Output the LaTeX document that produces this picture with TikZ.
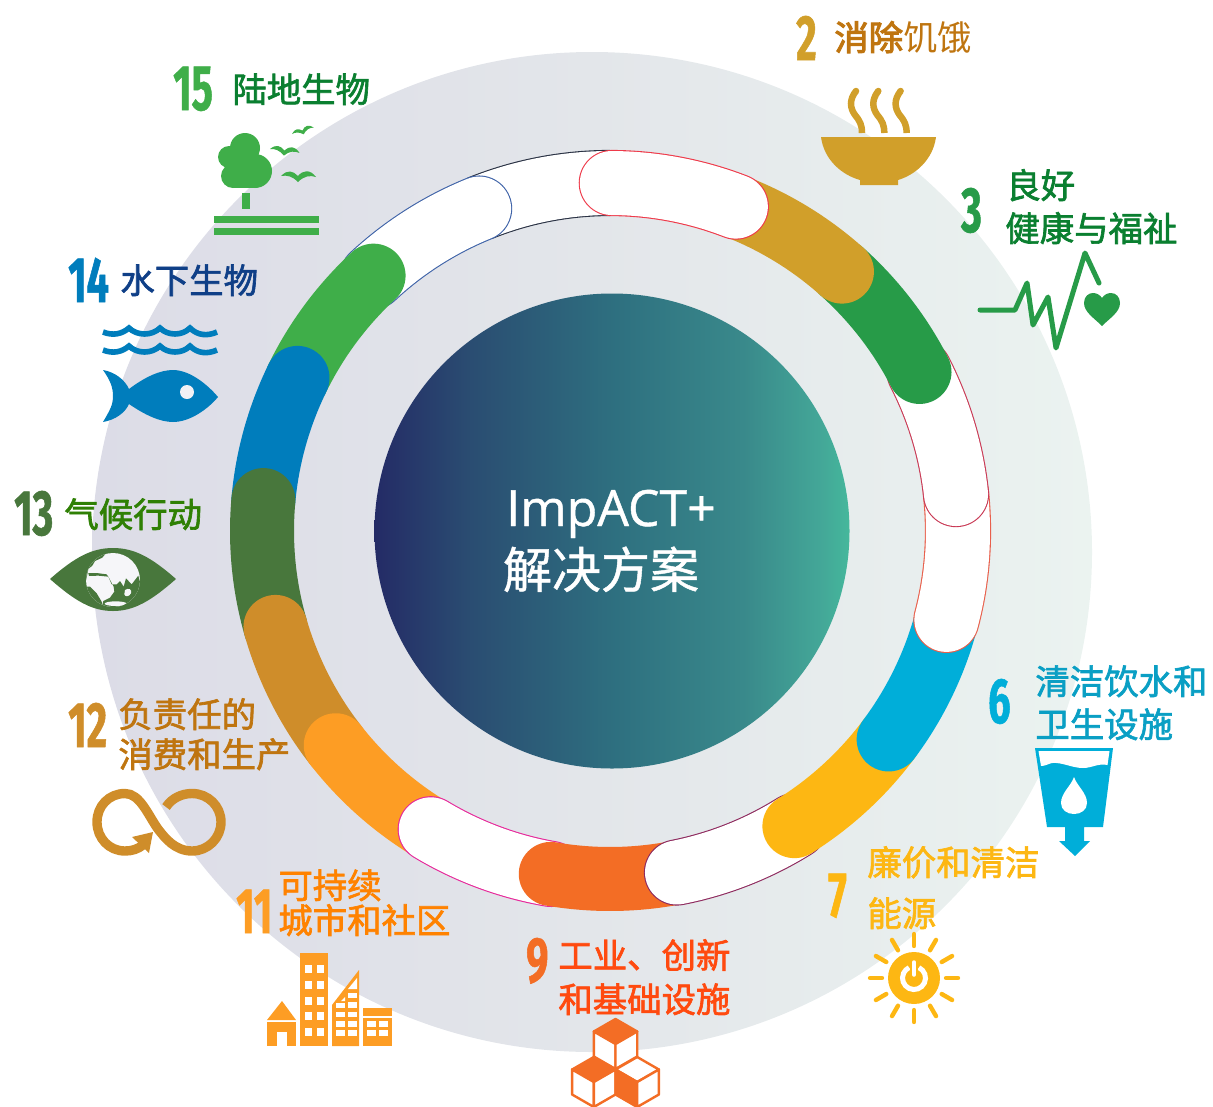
\documentclass[tikz,border=0pt]{standalone}
\usepackage{fontspec}
\newfontfamily\cjk{Noto Sans CJK SC}
\newfontfamily\cjkm[FakeBold=1.9]{Noto Sans CJK SC}
\newfontfamily\cjkb[FakeBold=3]{Noto Sans CJK SC}
\newfontfamily\cjkt[FakeBold=1]{Noto Sans CJK SC}
\newfontfamily\numf[FakeStretch=0.62,BoldFeatures={FakeBold=0.8,FakeStretch=0.62}]{Fira Sans}
\newfontfamily\latf[FakeBold=0.9]{Open Sans}
\definecolor{cOchre}{HTML}{D19F2A}
\definecolor{cGreenC}{HTML}{279B48}
\definecolor{cCyan}{HTML}{00AED9}
\definecolor{cYellow}{HTML}{FDB713}
\definecolor{cRedO}{HTML}{F36D25}
\definecolor{cOrange}{HTML}{FD9D24}
\definecolor{cGold}{HTML}{CF8D2A}
\definecolor{cClim}{HTML}{48773C}
\definecolor{cBlue}{HTML}{007DBC}
\definecolor{cLand}{HTML}{3FAE49}
\definecolor{tBrown}{HTML}{BF7510}
\definecolor{tGreen}{HTML}{0A7F30}
\definecolor{tNavy}{HTML}{0F3F87}
\definecolor{tClim}{HTML}{2F8005}
\definecolor{tOrange}{HTML}{FF8200}
\definecolor{tRed}{HTML}{FF4A0F}
\definecolor{tCyan}{HTML}{0A9FC4}
\definecolor{dLeft}{HTML}{DCDCE7}
\definecolor{dMid}{HTML}{E3E6EA}
\definecolor{dRight}{HTML}{EBF3F0}
\definecolor{oDark}{HTML}{2A3244}
\definecolor{oBlue}{HTML}{3F63A8}
\definecolor{oRed}{HTML}{EE3A4A}
\definecolor{oPink}{HTML}{E6289A}
\definecolor{oPurple}{HTML}{8E2A5E}
\definecolor{oCoral}{HTML}{E8604C}
\definecolor{oCrimson}{HTML}{C93A55}
\definecolor{globeWhite}{HTML}{F6F6F9}
\pgfdeclarehorizontalshading{coreshade}{100bp}{
  rgb(0bp)=(0.141,0.169,0.400);
  rgb(25bp)=(0.141,0.169,0.400);
  rgb(35bp)=(0.165,0.300,0.445);
  rgb(50bp)=(0.180,0.435,0.500);
  rgb(64bp)=(0.225,0.540,0.545);
  rgb(72bp)=(0.265,0.655,0.595);
  rgb(75bp)=(0.270,0.720,0.610);
  rgb(100bp)=(0.270,0.720,0.610)}
\tikzset{
  lbl/.style={anchor=base west,inner sep=0pt,xshift=-0.8pt,yshift=0.7pt,font=\cjkm\fontsize{34.4}{36}\selectfont},
  num/.style={anchor=base west,inner sep=0pt,font=\numf\bfseries\fontsize{64}{64}\selectfont},
  band/.style={line width=64pt,line cap=round},
  edgeline/.style={line width=66.2pt},
  win/.style={fill=white}
}
\newcommand{\bandarc}[3]{%
  \draw[band,#3] (c) ++(#1:348pt) arc[start angle=#1,end angle=#2,radius=348pt];}
\newcommand{\capsule}[3]{%
  \draw[edgeline,line cap=round,#3] (c) ++(#1:348pt) arc[start angle=#1,end angle=#2,radius=348pt];
  \draw[band,white] (c) ++(#1:348pt) arc[start angle=#1,end angle=#2,radius=348pt];}
\newcommand{\birdmark}[4]{%
  \fill[cLand,shift={(#1,#2)},scale=#3,rotate=#4] (0,0) .. controls (7,-7) and (12,-5) .. (17,0)
    .. controls (22,-6) and (29,-7) .. (35,1) .. controls (29,-1) and (23,0) .. (17,6)
    .. controls (11,0) and (6,-1) .. cycle;}
\newcommand{\cubemark}[5]{%
  \begin{scope}[shift={(#1,#2)},draw=cRedO,line width=2.4pt,line join=round]
    \filldraw[fill=#3] (0,-25) -- (21.7,-12.5) -- (0,0) -- (-21.7,-12.5) -- cycle;
    \filldraw[fill=#4] (-21.7,-12.5) -- (0,0) -- (0,25) -- (-21.7,12.5) -- cycle;
    \filldraw[fill=#5] (21.7,-12.5) -- (0,0) -- (0,25) -- (21.7,12.5) -- cycle;
  \end{scope}}
\begin{document}
\begin{tikzpicture}[x=1pt,y=-1pt]
\clip (0,0) rectangle (1213,1106);
\coordinate (c) at (610,531);
% backdrop disc
\shade[left color=dLeft,right color=dRight,middle color=dMid] (592,552) circle[radius=500pt];
% ring
\draw[edgeline,line cap=butt,oDark] (c) ++(90:348pt) arc[start angle=90,end angle=112,radius=348pt];
\draw[band,line cap=butt,white] (c) ++(89:348pt) arc[start angle=89,end angle=113,radius=348pt];
\capsule{112.1}{133}{oBlue}
\bandarc{132.8}{154}{cLand}
\bandarc{153.9}{175}{cBlue}
\bandarc{174.9}{196}{cClim}
\bandarc{196}{218}{cGold}
\bandarc{218}{239}{cOrange}
\capsule{239}{260.2}{oPink}
\bandarc{260.2}{281.1}{cRedO}
\capsule{281.1}{302}{oPurple}
\bandarc{302}{323.2}{cYellow}
\bandarc{323.2}{345.2}{cCyan}
\capsule{345.2}{366.1}{oCoral}
\capsule{6.1}{27.2}{oCrimson}
\bandarc{27.2}{48.2}{cGreenC}
\bandarc{48.2}{68.8}{cOchre}
\capsule{68.8}{89.7}{oRed}
% central disc
\shade[shading=coreshade] (612,531) circle[radius=237.5pt];
\node (titleA) [anchor=base,inner sep=0pt,text=white,font=\latf\fontsize{50}{50}\selectfont] at (611,526) {ImpACT+};
\node (titleB) [anchor=base,inner sep=0pt,text=white,font=\cjkt\fontsize{49}{49}\selectfont] at (601,588) {解决方案};
% numbers
\node (n2)  [num,text=cOchre] at (796,60) {2};
\node (n15) [num,text=cLand] at (173,110) {15};
\node (n14) [num,text=cBlue] at (68,302) {14};
\node (n13) [num,text=cClim] at (14,535) {13};
\node (n12) [num,text=cGold] at (68,747) {12};
\node (n11) [num,text=cOrange] at (236,933) {11};
\node (n9)  [num,text=cRedO] at (526,982) {9};
\node (n7)  [num,text=cYellow] at (828,917) {7};
\node (n6)  [num,text=cCyan] at (988,723) {6};
\node (n3)  [num,text=cGreenC] at (961,232) {3};
% labels
\node (l2) [lbl,text=tBrown] at (835,51) {{\cjkb 消除}{\cjk 饥饿}};
\node (l15) [lbl,text=tGreen] at (233,103) {陆地生物};
\node (l14) [lbl,text=tNavy] at (121,294) {水下生物};
\node (l13) [lbl,text=tClim] at (65,528) {气候行动};
\node (l12a) [lbl,text=tBrown] at (119,728) {负责任的};
\node (l12b) [lbl,text=tBrown] at (119,768) {消费和生产};
\node (l11a) [lbl,text=tOrange] at (279,899) {可持续};
\node (l11b) [lbl,text=tOrange] at (279,934) {城市和社区};
\node (l9a) [lbl,text=tRed] at (559,969) {工业、创新};
\node (l9b) [lbl,text=tRed] at (559,1013) {和基础设施};
\node (l7a) [lbl,text=cYellow] at (868,876) {廉价和清洁};
\node (l7b) [lbl,text=cYellow] at (868,927) {能源};
\node (l6a) [lbl,text=tCyan] at (1036,695) {清洁饮水和};
\node (l6b) [lbl,text=tCyan] at (1036,738) {卫生设施};
\node (l3a) [lbl,text=tGreen] at (1007,199) {良好};
\node (l3b) [lbl,text=tGreen] at (1006,242) {健康与福祉};
% bowl
\fill[cOchre] (821,137) -- (936,137) .. controls (933,160) and (915,175) .. (898,180) -- (898,185) -- (860,185) -- (860,180) .. controls (842,175) and (824,160) .. cycle;
\foreach \dx in {0,22.3,44.6}{
  \draw[cOchre,line width=6.5pt] ([xshift=\dx pt]856,91) .. controls ([xshift=\dx pt]849,100) and ([xshift=\dx pt]850,108) .. ([xshift=\dx pt]855,115) .. controls ([xshift=\dx pt]860,121) and ([xshift=\dx pt]862,125) .. ([xshift=\dx pt]862,133);
  \fill[cOchre] ([xshift=\dx pt]856,91) circle[radius=3.25pt];
}
% heartbeat
\draw[cGreenC,line width=5pt,line join=round,line cap=round] (980,310) -- (1015,310) -- (1027,283) -- (1033,325) -- (1048,297) -- (1056,348) -- (1085,253) -- (1099,283);
\fill[cGreenC] (1102,326) .. controls (1094,318) and (1084,312) .. (1084,303) .. controls (1084,296) and (1089,293) .. (1093,293) .. controls (1097,293) and (1100,295) .. (1102,298) .. controls (1104,295) and (1107,293) .. (1111,293) .. controls (1116,293) and (1120,297) .. (1120,303) .. controls (1120,312) and (1110,318) .. cycle;
% tree
\fill[cLand] (245,148) circle[radius=15pt] (229,157) circle[radius=11pt] (255,171) circle[radius=17pt] (233,176) circle[radius=12pt] (243,163) circle[radius=14pt];
\fill[cLand] (233,168) rectangle (255,188);
\fill[cLand] (242,193) rectangle (250,209);
\fill[cLand] (214,216) rectangle (319,223);
\fill[cLand] (214,228) rectangle (319,235);
\birdmark{292}{134}{0.65}{18}
\birdmark{270}{149}{0.85}{-6}
\birdmark{281}{176}{1}{0}
% waves
\foreach \dy in {0,18}{
  \draw[cBlue,line width=5.6pt] ([yshift=-\dy pt]103,332) .. controls ([yshift=-\dy pt]113,336) and ([yshift=-\dy pt]122,334) .. ([yshift=-\dy pt]129,328) .. controls ([yshift=-\dy pt]137,336) and ([yshift=-\dy pt]152,336) .. ([yshift=-\dy pt]160,328) .. controls ([yshift=-\dy pt]168,336) and ([yshift=-\dy pt]182,336) .. ([yshift=-\dy pt]190,328) .. controls ([yshift=-\dy pt]198,336) and ([yshift=-\dy pt]208,336) .. ([yshift=-\dy pt]217,332);
}
% fish
\fill[cBlue] (103,370) .. controls (115,372) and (125,380) .. (129,389) .. controls (145,377) and (160,370) .. (173,370) .. controls (190,370) and (208,385) .. (218,397) .. controls (208,409) and (190,422) .. (173,422) .. controls (160,422) and (145,415) .. (129,404) .. controls (125,413) and (115,420) .. (103,422) .. controls (110,410) and (113,405) .. (113,396) .. controls (113,387) and (110,380) .. cycle;
\fill[dLeft!40!white] (187,392) circle[radius=7pt];
% eye and globe
\fill[cClim] (50,579) .. controls (75,557) and (92,548) .. (113,548) .. controls (134,548) and (151,557) .. (176,579) .. controls (151,601) and (134,611) .. (113,611) .. controls (92,611) and (75,601) .. cycle;
\fill[globeWhite] (113,580) circle[radius=27pt];
\begin{scope}
  \clip (113,580) circle[radius=27pt];
  \begin{scope}[shift={(75,545)},scale=0.3333]
    \fill[cClim] (30,20) -- (95,22) -- (82,38) -- (60,48) -- (52,62) -- (40,72) -- (37,88) -- (30,120) -- cycle;
    \fill[cClim] (30,125) -- (45,125) -- (65,145) -- (80,170) -- (85,190) -- (30,190) -- cycle;
    \fill[cClim] (40,84) -- (65,84) -- (95,88) -- (100,95) -- (70,92) -- (42,93) -- cycle;
    \fill[cClim] (100,95) -- (110,118) -- (125,118) -- (135,108) -- (146,125) -- (153,100) -- (170,118) -- (190,92) -- (200,130) -- (190,190) -- (80,190) -- (85,168) -- (105,158) -- (118,140) -- (116,125) -- cycle;
    \fill[globeWhite] (150,135) .. controls (160,128) and (172,132) .. (168,145) .. controls (162,156) and (150,156) .. (148,148) -- cycle;
    \fill[globeWhite] (122,176) ellipse[x radius=33pt,y radius=7pt];
  \end{scope}
\end{scope}
% infinity
\draw[cGold,line width=9.4pt] (166,807) .. controls (172,798) and (182,793.5) .. (192,793.5) .. controls (208,793.5) and (221,806) .. (221,822) .. controls (221,838) and (208,851) .. (192,851) .. controls (175,851) and (165,838) .. (158,829) .. controls (148,815) and (140,793.5) .. (125,793.5) .. controls (109,793.5) and (97,806) .. (97,822) .. controls (97,838) and (109,851) .. (125,851) .. controls (132,851) and (138,849) .. (143,845);
\fill[cGold] (132,837) -- (153,832) -- (149,853) -- cycle;
% city
\fill[cOrange] (300,953) rectangle (328,1046);
\foreach \yy in {965,981,997,1012,1028}{
  \fill[win] (305,\yy) rectangle ++(7,8);
  \fill[win] (317,\yy) rectangle ++(7,8);
}
\fill[cOrange] (282,1001) -- (296,1020) -- (267,1020) -- cycle;
\fill[cOrange] (267,1022) rectangle (296,1046);
\fill[win] (277,1032) rectangle (287,1046);
\fill[cOrange] (332,1046) -- (332,1005) -- (359,970) -- (359,1046) -- cycle;
\foreach \yy/\hh in {1012/5,1021/6,1030/6}{
  \fill[win] (336,\yy) rectangle ++(9,\hh);
  \fill[win] (348,\yy) rectangle ++(9,\hh);
}
\fill[win] (348,993) rectangle ++(9,5);
\fill[win] (348,1002) rectangle ++(9,6);
\fill[win] (336,1003) -- (345,1003) -- (345,1008) -- (336,1008) -- cycle;
\fill[win] (345,997) -- (345,1001) -- (341,1001) -- cycle;
\fill[win] (348,989) -- (357,978) -- (357,989) -- cycle;
\fill[cOrange] (363,1008) rectangle (392,1046);
\fill[win] (363,1015.5) rectangle (392,1018);
\foreach \yy in {1021,1030}{
  \fill[win] (367,\yy) rectangle ++(9,6);
  \fill[win] (379,\yy) rectangle ++(9,6);
}
% cubes
\cubemark{615.5}{1044}{cRedO}{white}{white}
\cubemark{593.8}{1082}{cRedO}{white}{white}
\cubemark{637.2}{1082}{white}{cRedO}{white}
% sun
\fill[cYellow] (914,978) circle[radius=26pt];
\foreach \aa in {0,30,...,330}{
  \draw[cYellow,line width=4.4pt,line cap=round] (914,978) ++(\aa:32pt) -- ++(\aa:12pt);
}
\draw[white,line width=5pt] (914,978) ++(65:11.5pt) arc[start angle=65,end angle=-245,radius=11.5pt];
\draw[cYellow,line width=7.5pt] (914,960) -- (914,976);
\draw[white,line width=3.5pt,line cap=round] (914,962) -- (914,975);
% glass
\fill[cCyan] (1035,748) -- (1113,748) -- (1103,827) -- (1084,827) -- (1084,841) -- (1090,841) -- (1075,856) -- (1059,841) -- (1065,841) -- (1065,827) -- (1047,827) -- cycle;
\fill[white] (1038.5,751) -- (1109.5,751) -- (1107.5,765) .. controls (1098,763) and (1092,768) .. (1083,768) .. controls (1072,768) and (1062,762) .. (1052,763) .. controls (1048,764) and (1045,766) .. (1041,766) -- cycle;
\fill[white] (1074,777) .. controls (1071,786) and (1061,793) .. (1061,803) .. controls (1061,810) and (1067,814) .. (1074,814) .. controls (1081,814) and (1087,810) .. (1087,803) .. controls (1087,793) and (1077,786) .. cycle;
\end{tikzpicture}
\end{document}
